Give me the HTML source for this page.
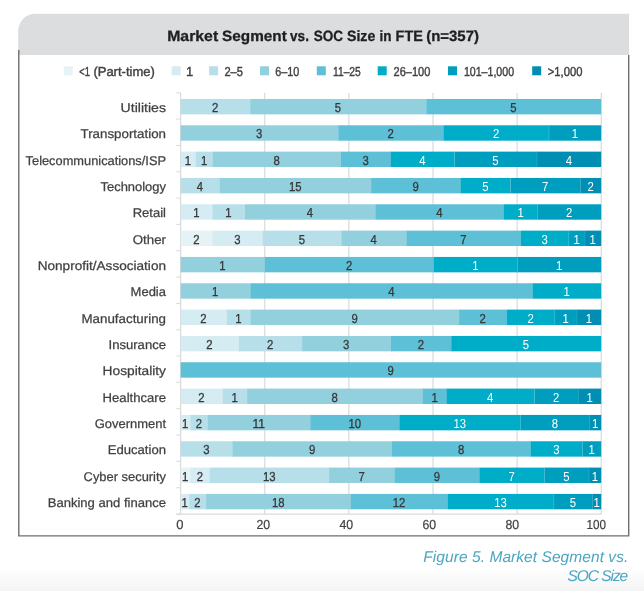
<!DOCTYPE html>
<html lang="en"><head><meta charset="utf-8"><title>Market Segment vs. SOC Size in FTE (n=357)</title>
<style>
html,body{margin:0;padding:0;background:#fff;}
body{width:644px;height:591px;overflow:hidden;font-family:"Liberation Sans",sans-serif;}
svg{display:block;}
text{font-family:"Liberation Sans",sans-serif;text-rendering:geometricPrecision;}
.lab{font-size:12.7px;fill:#414143;stroke:#414143;stroke-width:0.25px;}
.val{font-size:13px;}
.d{fill:#38383a;stroke:#38383a;stroke-width:0.3px;}
.w{fill:#ffffff;}
.leg{font-size:13px;fill:#414143;stroke:#414143;stroke-width:0.4px;}
.ax{font-size:13px;fill:#414143;stroke:#414143;stroke-width:0.2px;}
.title{font-size:15px;font-weight:bold;fill:#1f1f21;stroke:#1f1f21;stroke-width:0.3px;}
.cap{font-size:15.5px;font-style:italic;fill:#4ba6c1;}
</style></head><body>
<svg width="644" height="591" viewBox="0 0 644 591">
<defs><linearGradient id="bg" x1="0" y1="0" x2="0" y2="1"><stop offset="0" stop-color="#ffffff"/><stop offset="1" stop-color="#f4f4f4"/></linearGradient></defs>
<rect x="0" y="0" width="644" height="591" fill="#ffffff"/>
<rect x="0" y="567" width="644" height="24" fill="url(#bg)"/>
<path d="M18.2 55 V31 A17.2 17.2 0 0 1 35.4 13.8 H629.1 V55 Z" fill="#dcddde"/>
<path d="M18.8 50 V535.9 H628.7 V55" fill="none" stroke="#6d6e70" stroke-width="1.4"/>
<text class="title" y="40.5"><tspan x="167.2" textLength="51.0" lengthAdjust="spacingAndGlyphs">Market</tspan> <tspan x="222.1" textLength="64.7" lengthAdjust="spacingAndGlyphs">Segment</tspan> <tspan x="290.1" textLength="18.8" lengthAdjust="spacingAndGlyphs">vs.</tspan> <tspan x="313.8" textLength="29.3" lengthAdjust="spacingAndGlyphs">SOC</tspan> <tspan x="347.0" textLength="28.3" lengthAdjust="spacingAndGlyphs">Size</tspan> <tspan x="379.6" textLength="12.0" lengthAdjust="spacingAndGlyphs">in</tspan> <tspan x="395.6" textLength="27.2" lengthAdjust="spacingAndGlyphs">FTE</tspan> <tspan x="426.2" textLength="52.8" lengthAdjust="spacingAndGlyphs">(n=357)</tspan></text>
<rect x="63.7" y="66.3" width="9" height="9" fill="#e5f3f7"/>
<text class="leg" y="75.6"><tspan x="79.3" textLength="10.6" lengthAdjust="spacingAndGlyphs">&lt;1</tspan><tspan> </tspan><tspan x="93.4" textLength="61.4" lengthAdjust="spacingAndGlyphs">(Part-time)</tspan></text>
<rect x="171.7" y="66.3" width="9" height="9" fill="#d5ecf2"/>
<text class="leg" x="189.5" y="75.6" text-anchor="middle">1</text>
<rect x="209.1" y="66.3" width="9" height="9" fill="#b6dfe9"/>
<text class="leg" x="224.4" y="75.6" textLength="18.6" lengthAdjust="spacingAndGlyphs">2–5</text>
<rect x="260.0" y="66.3" width="9" height="9" fill="#93d0de"/>
<text class="leg" x="275.3" y="75.6" textLength="24.1" lengthAdjust="spacingAndGlyphs">6–10</text>
<rect x="316.8" y="66.3" width="9" height="9" fill="#5ec0d7"/>
<text class="leg" x="333.0" y="75.6" textLength="27.8" lengthAdjust="spacingAndGlyphs">11–25</text>
<rect x="377.7" y="66.3" width="9" height="9" fill="#00adc9"/>
<text class="leg" x="393.6" y="75.6" textLength="36.8" lengthAdjust="spacingAndGlyphs">26–100</text>
<rect x="448.0" y="66.3" width="9" height="9" fill="#009ebe"/>
<text class="leg" x="463.9" y="75.6" textLength="50.2" lengthAdjust="spacingAndGlyphs">101–1,000</text>
<rect x="532.2" y="66.3" width="9" height="9" fill="#008eb3"/>
<text class="leg" x="547.8" y="75.6" textLength="34.6" lengthAdjust="spacingAndGlyphs">&gt;1,000</text>
<line x1="180.7" y1="92.8" x2="180.7" y2="514.1" stroke="#d0d2d3" stroke-width="1"/>
<line x1="264.8" y1="92.8" x2="264.8" y2="514.1" stroke="#d0d2d3" stroke-width="1"/>
<line x1="348.9" y1="92.8" x2="348.9" y2="514.1" stroke="#d0d2d3" stroke-width="1"/>
<line x1="433.0" y1="92.8" x2="433.0" y2="514.1" stroke="#d0d2d3" stroke-width="1"/>
<line x1="517.1" y1="92.8" x2="517.1" y2="514.1" stroke="#d0d2d3" stroke-width="1"/>
<line x1="601.2" y1="92.8" x2="601.2" y2="514.1" stroke="#d0d2d3" stroke-width="1"/>
<line x1="176.2" y1="514.1" x2="601.7" y2="514.1" stroke="#d0d2d3" stroke-width="1"/>
<line x1="176.2" y1="92.8" x2="180.7" y2="92.8" stroke="#dadbdc" stroke-width="1"/>
<line x1="176.2" y1="119.1" x2="180.7" y2="119.1" stroke="#dadbdc" stroke-width="1"/>
<line x1="176.2" y1="145.5" x2="180.7" y2="145.5" stroke="#dadbdc" stroke-width="1"/>
<line x1="176.2" y1="171.8" x2="180.7" y2="171.8" stroke="#dadbdc" stroke-width="1"/>
<line x1="176.2" y1="198.1" x2="180.7" y2="198.1" stroke="#dadbdc" stroke-width="1"/>
<line x1="176.2" y1="224.4" x2="180.7" y2="224.4" stroke="#dadbdc" stroke-width="1"/>
<line x1="176.2" y1="250.8" x2="180.7" y2="250.8" stroke="#dadbdc" stroke-width="1"/>
<line x1="176.2" y1="277.1" x2="180.7" y2="277.1" stroke="#dadbdc" stroke-width="1"/>
<line x1="176.2" y1="303.4" x2="180.7" y2="303.4" stroke="#dadbdc" stroke-width="1"/>
<line x1="176.2" y1="329.8" x2="180.7" y2="329.8" stroke="#dadbdc" stroke-width="1"/>
<line x1="176.2" y1="356.1" x2="180.7" y2="356.1" stroke="#dadbdc" stroke-width="1"/>
<line x1="176.2" y1="382.4" x2="180.7" y2="382.4" stroke="#dadbdc" stroke-width="1"/>
<line x1="176.2" y1="408.8" x2="180.7" y2="408.8" stroke="#dadbdc" stroke-width="1"/>
<line x1="176.2" y1="435.1" x2="180.7" y2="435.1" stroke="#dadbdc" stroke-width="1"/>
<line x1="176.2" y1="461.4" x2="180.7" y2="461.4" stroke="#dadbdc" stroke-width="1"/>
<line x1="176.2" y1="487.8" x2="180.7" y2="487.8" stroke="#dadbdc" stroke-width="1"/>
<line x1="176.2" y1="514.1" x2="180.7" y2="514.1" stroke="#dadbdc" stroke-width="1"/>
<text class="lab" x="120.6" y="111.9" textLength="45.4" lengthAdjust="spacingAndGlyphs">Utilities</text>
<rect x="180.70" y="98.97" width="69.80" height="15.4" fill="#b6dfe9"/>
<rect x="250.20" y="98.97" width="176.40" height="15.4" fill="#93d0de"/>
<rect x="426.30" y="98.97" width="174.90" height="15.4" fill="#5ec0d7"/>
<text class="val d" x="212.0" y="111.9" textLength="6.3" lengthAdjust="spacingAndGlyphs">2</text>
<text class="val d" x="334.8" y="111.9" textLength="6.3" lengthAdjust="spacingAndGlyphs">5</text>
<text class="val d" x="510.3" y="111.9" textLength="6.3" lengthAdjust="spacingAndGlyphs">5</text>
<text class="lab" x="80.5" y="138.2" textLength="85.5" lengthAdjust="spacingAndGlyphs">Transportation</text>
<rect x="180.70" y="125.29" width="157.90" height="15.4" fill="#93d0de"/>
<rect x="338.30" y="125.29" width="105.80" height="15.4" fill="#5ec0d7"/>
<rect x="443.80" y="125.29" width="105.50" height="15.4" fill="#00adc9"/>
<rect x="549.00" y="125.29" width="52.20" height="15.4" fill="#009ebe"/>
<rect x="548.70" y="125.29" width="0.6" height="15.4" fill="#ffffff" fill-opacity="0.3"/>
<text class="val d" x="256.1" y="138.2" textLength="6.3" lengthAdjust="spacingAndGlyphs">3</text>
<text class="val d" x="387.6" y="138.2" textLength="6.3" lengthAdjust="spacingAndGlyphs">2</text>
<text class="val w" x="492.9" y="138.2" textLength="6.3" lengthAdjust="spacingAndGlyphs">2</text>
<text class="val w" x="571.7" y="138.2" textLength="6.3" lengthAdjust="spacingAndGlyphs">1</text>
<text class="lab" x="25.6" y="164.5" textLength="140.4" lengthAdjust="spacingAndGlyphs">Telecommunications/ISP</text>
<rect x="180.70" y="151.62" width="15.40" height="15.4" fill="#d5ecf2"/>
<rect x="195.80" y="151.62" width="17.40" height="15.4" fill="#b6dfe9"/>
<rect x="212.90" y="151.62" width="128.40" height="15.4" fill="#93d0de"/>
<rect x="341.00" y="151.62" width="50.20" height="15.4" fill="#5ec0d7"/>
<rect x="390.90" y="151.62" width="63.80" height="15.4" fill="#00adc9"/>
<rect x="454.40" y="151.62" width="82.90" height="15.4" fill="#009ebe"/>
<rect x="537.00" y="151.62" width="64.20" height="15.4" fill="#008eb3"/>
<rect x="454.10" y="151.62" width="0.6" height="15.4" fill="#ffffff" fill-opacity="0.3"/>
<rect x="536.70" y="151.62" width="0.6" height="15.4" fill="#ffffff" fill-opacity="0.18"/>
<text class="val d" x="184.8" y="164.5" textLength="6.3" lengthAdjust="spacingAndGlyphs">1</text>
<text class="val d" x="200.9" y="164.5" textLength="6.3" lengthAdjust="spacingAndGlyphs">1</text>
<text class="val d" x="273.5" y="164.5" textLength="6.3" lengthAdjust="spacingAndGlyphs">8</text>
<text class="val d" x="362.5" y="164.5" textLength="6.3" lengthAdjust="spacingAndGlyphs">3</text>
<text class="val w" x="419.2" y="164.5" textLength="6.3" lengthAdjust="spacingAndGlyphs">4</text>
<text class="val w" x="492.2" y="164.5" textLength="6.3" lengthAdjust="spacingAndGlyphs">5</text>
<text class="val w" x="565.7" y="164.5" textLength="6.3" lengthAdjust="spacingAndGlyphs">4</text>
<text class="lab" x="100.5" y="190.9" textLength="65.5" lengthAdjust="spacingAndGlyphs">Technology</text>
<rect x="180.70" y="177.95" width="39.40" height="15.4" fill="#b6dfe9"/>
<rect x="219.80" y="177.95" width="151.60" height="15.4" fill="#93d0de"/>
<rect x="371.10" y="177.95" width="90.00" height="15.4" fill="#5ec0d7"/>
<rect x="460.80" y="177.95" width="49.90" height="15.4" fill="#00adc9"/>
<rect x="510.40" y="177.95" width="70.30" height="15.4" fill="#009ebe"/>
<rect x="580.40" y="177.95" width="20.80" height="15.4" fill="#008eb3"/>
<rect x="510.10" y="177.95" width="0.6" height="15.4" fill="#ffffff" fill-opacity="0.3"/>
<rect x="580.10" y="177.95" width="0.6" height="15.4" fill="#ffffff" fill-opacity="0.18"/>
<text class="val d" x="196.8" y="190.9" textLength="6.3" lengthAdjust="spacingAndGlyphs">4</text>
<text class="val d" x="288.9" y="190.9" textLength="12.6" lengthAdjust="spacingAndGlyphs">15</text>
<text class="val d" x="412.5" y="190.9" textLength="6.3" lengthAdjust="spacingAndGlyphs">9</text>
<text class="val w" x="482.2" y="190.9" textLength="6.3" lengthAdjust="spacingAndGlyphs">5</text>
<text class="val w" x="542.0" y="190.9" textLength="6.3" lengthAdjust="spacingAndGlyphs">7</text>
<text class="val w" x="587.4" y="190.9" textLength="6.3" lengthAdjust="spacingAndGlyphs">2</text>
<text class="lab" x="132.7" y="217.2" textLength="33.3" lengthAdjust="spacingAndGlyphs">Retail</text>
<rect x="180.70" y="204.28" width="32.20" height="15.4" fill="#d5ecf2"/>
<rect x="212.60" y="204.28" width="32.70" height="15.4" fill="#b6dfe9"/>
<rect x="245.00" y="204.28" width="130.80" height="15.4" fill="#93d0de"/>
<rect x="375.50" y="204.28" width="128.70" height="15.4" fill="#5ec0d7"/>
<rect x="503.90" y="204.28" width="34.10" height="15.4" fill="#00adc9"/>
<rect x="537.70" y="204.28" width="63.50" height="15.4" fill="#009ebe"/>
<rect x="537.40" y="204.28" width="0.6" height="15.4" fill="#ffffff" fill-opacity="0.3"/>
<text class="val d" x="193.2" y="217.2" textLength="6.3" lengthAdjust="spacingAndGlyphs">1</text>
<text class="val d" x="225.3" y="217.2" textLength="6.3" lengthAdjust="spacingAndGlyphs">1</text>
<text class="val d" x="306.8" y="217.2" textLength="6.3" lengthAdjust="spacingAndGlyphs">4</text>
<text class="val d" x="436.2" y="217.2" textLength="6.3" lengthAdjust="spacingAndGlyphs">4</text>
<text class="val w" x="517.4" y="217.2" textLength="6.3" lengthAdjust="spacingAndGlyphs">1</text>
<text class="val w" x="566.0" y="217.2" textLength="6.3" lengthAdjust="spacingAndGlyphs">2</text>
<text class="lab" x="132.7" y="243.5" textLength="33.3" lengthAdjust="spacingAndGlyphs">Other</text>
<rect x="180.70" y="230.62" width="32.20" height="15.4" fill="#e5f3f7"/>
<rect x="212.60" y="230.62" width="50.50" height="15.4" fill="#d5ecf2"/>
<rect x="262.80" y="230.62" width="78.90" height="15.4" fill="#b6dfe9"/>
<rect x="341.40" y="230.62" width="65.40" height="15.4" fill="#93d0de"/>
<rect x="406.50" y="230.62" width="114.80" height="15.4" fill="#5ec0d7"/>
<rect x="521.00" y="230.62" width="48.10" height="15.4" fill="#00adc9"/>
<rect x="568.80" y="230.62" width="16.40" height="15.4" fill="#009ebe"/>
<rect x="584.90" y="230.62" width="16.30" height="15.4" fill="#008eb3"/>
<rect x="568.50" y="230.62" width="0.6" height="15.4" fill="#ffffff" fill-opacity="0.3"/>
<rect x="584.60" y="230.62" width="0.6" height="15.4" fill="#ffffff" fill-opacity="0.18"/>
<text class="val d" x="193.2" y="243.5" textLength="6.3" lengthAdjust="spacingAndGlyphs">2</text>
<text class="val d" x="234.2" y="243.5" textLength="6.3" lengthAdjust="spacingAndGlyphs">3</text>
<text class="val d" x="298.7" y="243.5" textLength="6.3" lengthAdjust="spacingAndGlyphs">5</text>
<text class="val d" x="370.5" y="243.5" textLength="6.3" lengthAdjust="spacingAndGlyphs">4</text>
<text class="val d" x="460.3" y="243.5" textLength="6.3" lengthAdjust="spacingAndGlyphs">7</text>
<text class="val w" x="541.5" y="243.5" textLength="6.3" lengthAdjust="spacingAndGlyphs">3</text>
<text class="val w" x="573.4" y="243.5" textLength="6.3" lengthAdjust="spacingAndGlyphs">1</text>
<text class="val w" x="589.6" y="243.5" textLength="6.3" lengthAdjust="spacingAndGlyphs">1</text>
<text class="lab" x="37.7" y="269.8" textLength="128.3" lengthAdjust="spacingAndGlyphs">Nonprofit/Association</text>
<rect x="180.70" y="256.94" width="84.50" height="15.4" fill="#93d0de"/>
<rect x="264.90" y="256.94" width="169.30" height="15.4" fill="#5ec0d7"/>
<rect x="433.90" y="256.94" width="84.00" height="15.4" fill="#00adc9"/>
<rect x="517.60" y="256.94" width="83.60" height="15.4" fill="#009ebe"/>
<rect x="517.30" y="256.94" width="0.6" height="15.4" fill="#ffffff" fill-opacity="0.3"/>
<text class="val d" x="219.3" y="269.8" textLength="6.3" lengthAdjust="spacingAndGlyphs">1</text>
<text class="val d" x="345.9" y="269.8" textLength="6.3" lengthAdjust="spacingAndGlyphs">2</text>
<text class="val w" x="472.3" y="269.8" textLength="6.3" lengthAdjust="spacingAndGlyphs">1</text>
<text class="val w" x="556.0" y="269.8" textLength="6.3" lengthAdjust="spacingAndGlyphs">1</text>
<text class="lab" x="130.6" y="296.2" textLength="35.4" lengthAdjust="spacingAndGlyphs">Media</text>
<rect x="180.70" y="283.27" width="70.10" height="15.4" fill="#93d0de"/>
<rect x="250.50" y="283.27" width="282.70" height="15.4" fill="#5ec0d7"/>
<rect x="532.90" y="283.27" width="68.30" height="15.4" fill="#00adc9"/>
<text class="val d" x="212.1" y="296.2" textLength="6.3" lengthAdjust="spacingAndGlyphs">1</text>
<text class="val d" x="388.2" y="296.2" textLength="6.3" lengthAdjust="spacingAndGlyphs">4</text>
<text class="val w" x="563.6" y="296.2" textLength="6.3" lengthAdjust="spacingAndGlyphs">1</text>
<text class="lab" x="81.5" y="322.5" textLength="84.5" lengthAdjust="spacingAndGlyphs">Manufacturing</text>
<rect x="180.70" y="309.60" width="46.50" height="15.4" fill="#d5ecf2"/>
<rect x="226.90" y="309.60" width="23.90" height="15.4" fill="#b6dfe9"/>
<rect x="250.50" y="309.60" width="208.90" height="15.4" fill="#93d0de"/>
<rect x="459.10" y="309.60" width="48.20" height="15.4" fill="#5ec0d7"/>
<rect x="507.00" y="309.60" width="48.10" height="15.4" fill="#00adc9"/>
<rect x="554.80" y="309.60" width="22.50" height="15.4" fill="#009ebe"/>
<rect x="577.00" y="309.60" width="24.20" height="15.4" fill="#008eb3"/>
<rect x="554.50" y="309.60" width="0.6" height="15.4" fill="#ffffff" fill-opacity="0.3"/>
<rect x="576.70" y="309.60" width="0.6" height="15.4" fill="#ffffff" fill-opacity="0.18"/>
<text class="val d" x="200.3" y="322.5" textLength="6.3" lengthAdjust="spacingAndGlyphs">2</text>
<text class="val d" x="235.2" y="322.5" textLength="6.3" lengthAdjust="spacingAndGlyphs">1</text>
<text class="val d" x="351.4" y="322.5" textLength="6.3" lengthAdjust="spacingAndGlyphs">9</text>
<text class="val d" x="479.6" y="322.5" textLength="6.3" lengthAdjust="spacingAndGlyphs">2</text>
<text class="val w" x="527.5" y="322.5" textLength="6.3" lengthAdjust="spacingAndGlyphs">2</text>
<text class="val w" x="562.5" y="322.5" textLength="6.3" lengthAdjust="spacingAndGlyphs">1</text>
<text class="val w" x="585.7" y="322.5" textLength="6.3" lengthAdjust="spacingAndGlyphs">1</text>
<text class="lab" x="108.5" y="348.8" textLength="57.5" lengthAdjust="spacingAndGlyphs">Insurance</text>
<rect x="180.70" y="335.94" width="58.50" height="15.4" fill="#d5ecf2"/>
<rect x="238.90" y="335.94" width="63.50" height="15.4" fill="#b6dfe9"/>
<rect x="302.10" y="335.94" width="89.20" height="15.4" fill="#93d0de"/>
<rect x="391.00" y="335.94" width="60.60" height="15.4" fill="#5ec0d7"/>
<rect x="451.30" y="335.94" width="149.90" height="15.4" fill="#00adc9"/>
<text class="val d" x="206.3" y="348.8" textLength="6.3" lengthAdjust="spacingAndGlyphs">2</text>
<text class="val d" x="267.1" y="348.8" textLength="6.3" lengthAdjust="spacingAndGlyphs">2</text>
<text class="val d" x="343.1" y="348.8" textLength="6.3" lengthAdjust="spacingAndGlyphs">3</text>
<text class="val d" x="417.7" y="348.8" textLength="6.3" lengthAdjust="spacingAndGlyphs">2</text>
<text class="val w" x="522.8" y="348.8" textLength="6.3" lengthAdjust="spacingAndGlyphs">5</text>
<text class="lab" x="102.6" y="375.2" textLength="63.4" lengthAdjust="spacingAndGlyphs">Hospitality</text>
<rect x="180.70" y="362.26" width="420.50" height="15.4" fill="#5ec0d7"/>
<text class="val d" x="387.5" y="375.2" textLength="6.3" lengthAdjust="spacingAndGlyphs">9</text>
<text class="lab" x="102.6" y="401.5" textLength="63.4" lengthAdjust="spacingAndGlyphs">Healthcare</text>
<rect x="180.70" y="388.59" width="42.40" height="15.4" fill="#d5ecf2"/>
<rect x="222.80" y="388.59" width="24.60" height="15.4" fill="#b6dfe9"/>
<rect x="247.10" y="388.59" width="176.10" height="15.4" fill="#93d0de"/>
<rect x="422.90" y="388.59" width="24.20" height="15.4" fill="#5ec0d7"/>
<rect x="446.80" y="388.59" width="87.80" height="15.4" fill="#00adc9"/>
<rect x="534.30" y="388.59" width="44.70" height="15.4" fill="#009ebe"/>
<rect x="578.70" y="388.59" width="22.50" height="15.4" fill="#008eb3"/>
<rect x="534.00" y="388.59" width="0.6" height="15.4" fill="#ffffff" fill-opacity="0.3"/>
<rect x="578.40" y="388.59" width="0.6" height="15.4" fill="#ffffff" fill-opacity="0.18"/>
<text class="val d" x="198.3" y="401.5" textLength="6.3" lengthAdjust="spacingAndGlyphs">2</text>
<text class="val d" x="231.5" y="401.5" textLength="6.3" lengthAdjust="spacingAndGlyphs">1</text>
<text class="val d" x="331.6" y="401.5" textLength="6.3" lengthAdjust="spacingAndGlyphs">8</text>
<text class="val d" x="431.4" y="401.5" textLength="6.3" lengthAdjust="spacingAndGlyphs">1</text>
<text class="val w" x="487.1" y="401.5" textLength="6.3" lengthAdjust="spacingAndGlyphs">4</text>
<text class="val w" x="553.1" y="401.5" textLength="6.3" lengthAdjust="spacingAndGlyphs">2</text>
<text class="val w" x="586.5" y="401.5" textLength="6.3" lengthAdjust="spacingAndGlyphs">1</text>
<text class="lab" x="94.7" y="427.8" textLength="71.3" lengthAdjust="spacingAndGlyphs">Government</text>
<rect x="180.70" y="414.93" width="10.00" height="15.4" fill="#d5ecf2"/>
<rect x="190.40" y="414.93" width="17.70" height="15.4" fill="#b6dfe9"/>
<rect x="207.80" y="414.93" width="102.80" height="15.4" fill="#93d0de"/>
<rect x="310.30" y="414.93" width="89.70" height="15.4" fill="#5ec0d7"/>
<rect x="399.70" y="414.93" width="121.20" height="15.4" fill="#00adc9"/>
<rect x="520.60" y="414.93" width="69.30" height="15.4" fill="#009ebe"/>
<rect x="589.60" y="414.93" width="11.60" height="15.4" fill="#008eb3"/>
<rect x="520.30" y="414.93" width="0.6" height="15.4" fill="#ffffff" fill-opacity="0.3"/>
<rect x="589.30" y="414.93" width="0.6" height="15.4" fill="#ffffff" fill-opacity="0.18"/>
<text class="val d" x="182.1" y="427.8" textLength="6.3" lengthAdjust="spacingAndGlyphs">1</text>
<text class="val d" x="195.7" y="427.8" textLength="6.3" lengthAdjust="spacingAndGlyphs">2</text>
<text class="val d" x="252.4" y="427.8" textLength="12.6" lengthAdjust="spacingAndGlyphs">11</text>
<text class="val d" x="348.4" y="427.8" textLength="12.6" lengthAdjust="spacingAndGlyphs">10</text>
<text class="val w" x="453.5" y="427.8" textLength="12.6" lengthAdjust="spacingAndGlyphs">13</text>
<text class="val w" x="551.7" y="427.8" textLength="6.3" lengthAdjust="spacingAndGlyphs">8</text>
<text class="val w" x="592.0" y="427.8" textLength="6.3" lengthAdjust="spacingAndGlyphs">1</text>
<text class="lab" x="107.7" y="454.2" textLength="58.3" lengthAdjust="spacingAndGlyphs">Education</text>
<rect x="180.70" y="441.25" width="52.30" height="15.4" fill="#b6dfe9"/>
<rect x="232.70" y="441.25" width="159.60" height="15.4" fill="#93d0de"/>
<rect x="392.00" y="441.25" width="139.20" height="15.4" fill="#5ec0d7"/>
<rect x="530.90" y="441.25" width="51.90" height="15.4" fill="#00adc9"/>
<rect x="582.50" y="441.25" width="18.70" height="15.4" fill="#009ebe"/>
<rect x="582.20" y="441.25" width="0.6" height="15.4" fill="#ffffff" fill-opacity="0.3"/>
<text class="val d" x="203.2" y="454.2" textLength="6.3" lengthAdjust="spacingAndGlyphs">3</text>
<text class="val d" x="308.9" y="454.2" textLength="6.3" lengthAdjust="spacingAndGlyphs">9</text>
<text class="val d" x="458.0" y="454.2" textLength="6.3" lengthAdjust="spacingAndGlyphs">8</text>
<text class="val w" x="553.3" y="454.2" textLength="6.3" lengthAdjust="spacingAndGlyphs">3</text>
<text class="val w" x="588.4" y="454.2" textLength="6.3" lengthAdjust="spacingAndGlyphs">1</text>
<text class="lab" x="83.6" y="480.5" textLength="82.4" lengthAdjust="spacingAndGlyphs">Cyber security</text>
<rect x="180.70" y="467.58" width="10.00" height="15.4" fill="#e5f3f7"/>
<rect x="190.40" y="467.58" width="19.70" height="15.4" fill="#d5ecf2"/>
<rect x="209.80" y="467.58" width="119.60" height="15.4" fill="#b6dfe9"/>
<rect x="329.10" y="467.58" width="66.10" height="15.4" fill="#93d0de"/>
<rect x="394.90" y="467.58" width="85.00" height="15.4" fill="#5ec0d7"/>
<rect x="479.60" y="467.58" width="65.20" height="15.4" fill="#00adc9"/>
<rect x="544.50" y="467.58" width="44.80" height="15.4" fill="#009ebe"/>
<rect x="589.00" y="467.58" width="12.20" height="15.4" fill="#008eb3"/>
<rect x="544.20" y="467.58" width="0.6" height="15.4" fill="#ffffff" fill-opacity="0.3"/>
<rect x="588.70" y="467.58" width="0.6" height="15.4" fill="#ffffff" fill-opacity="0.18"/>
<text class="val d" x="182.1" y="480.5" textLength="6.3" lengthAdjust="spacingAndGlyphs">1</text>
<text class="val d" x="196.7" y="480.5" textLength="6.3" lengthAdjust="spacingAndGlyphs">2</text>
<text class="val d" x="262.9" y="480.5" textLength="12.6" lengthAdjust="spacingAndGlyphs">13</text>
<text class="val d" x="358.6" y="480.5" textLength="6.3" lengthAdjust="spacingAndGlyphs">7</text>
<text class="val d" x="433.8" y="480.5" textLength="6.3" lengthAdjust="spacingAndGlyphs">9</text>
<text class="val w" x="508.6" y="480.5" textLength="6.3" lengthAdjust="spacingAndGlyphs">7</text>
<text class="val w" x="563.3" y="480.5" textLength="6.3" lengthAdjust="spacingAndGlyphs">5</text>
<text class="val w" x="591.7" y="480.5" textLength="6.3" lengthAdjust="spacingAndGlyphs">1</text>
<text class="lab" x="47.7" y="506.8" textLength="118.3" lengthAdjust="spacingAndGlyphs">Banking and finance</text>
<rect x="180.70" y="493.91" width="8.90" height="15.4" fill="#d5ecf2"/>
<rect x="189.30" y="493.91" width="17.10" height="15.4" fill="#b6dfe9"/>
<rect x="206.10" y="493.91" width="145.10" height="15.4" fill="#93d0de"/>
<rect x="350.90" y="493.91" width="97.30" height="15.4" fill="#5ec0d7"/>
<rect x="447.90" y="493.91" width="106.20" height="15.4" fill="#00adc9"/>
<rect x="553.80" y="493.91" width="39.00" height="15.4" fill="#009ebe"/>
<rect x="592.50" y="493.91" width="8.70" height="15.4" fill="#008eb3"/>
<rect x="553.50" y="493.91" width="0.6" height="15.4" fill="#ffffff" fill-opacity="0.3"/>
<rect x="592.20" y="493.91" width="0.6" height="15.4" fill="#ffffff" fill-opacity="0.18"/>
<text class="val d" x="181.5" y="506.8" textLength="6.3" lengthAdjust="spacingAndGlyphs">1</text>
<text class="val d" x="194.2" y="506.8" textLength="6.3" lengthAdjust="spacingAndGlyphs">2</text>
<text class="val d" x="271.9" y="506.8" textLength="12.6" lengthAdjust="spacingAndGlyphs">18</text>
<text class="val d" x="392.8" y="506.8" textLength="12.6" lengthAdjust="spacingAndGlyphs">12</text>
<text class="val w" x="494.2" y="506.8" textLength="12.6" lengthAdjust="spacingAndGlyphs">13</text>
<text class="val w" x="569.7" y="506.8" textLength="6.3" lengthAdjust="spacingAndGlyphs">5</text>
<text class="val w" x="593.4" y="506.8" textLength="6.3" lengthAdjust="spacingAndGlyphs">1</text>
<text class="ax" x="179.9" y="528.8" text-anchor="middle">0</text>
<text class="ax" x="256.4" y="528.8" textLength="13.7" lengthAdjust="spacingAndGlyphs">20</text>
<text class="ax" x="339.4" y="528.8" textLength="13.7" lengthAdjust="spacingAndGlyphs">40</text>
<text class="ax" x="422.5" y="528.8" textLength="13.7" lengthAdjust="spacingAndGlyphs">60</text>
<text class="ax" x="505.5" y="528.8" textLength="13.7" lengthAdjust="spacingAndGlyphs">80</text>
<text class="ax" x="586.4" y="528.8" textLength="19.5" lengthAdjust="spacingAndGlyphs">100</text>
<text class="cap" x="423.3" y="561.8" textLength="205" lengthAdjust="spacing">Figure 5. Market Segment vs.</text>
<text class="cap" x="567.6" y="580.8" textLength="60.6" lengthAdjust="spacing">SOC Size</text>
</svg></body></html>
